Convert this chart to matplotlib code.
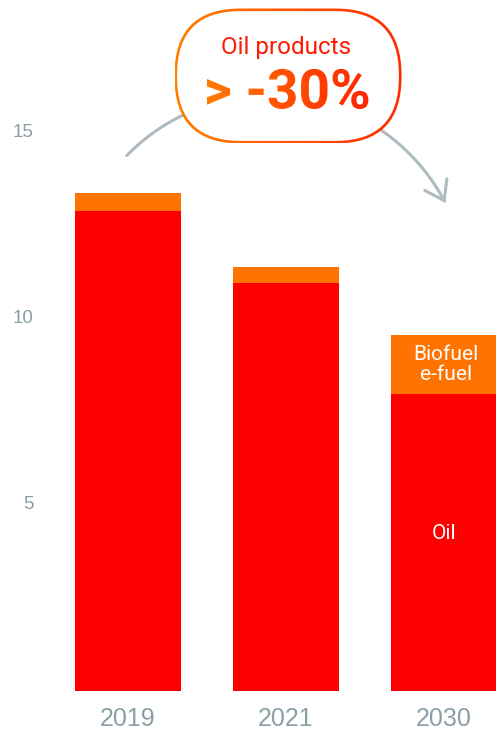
import numpy as np
import matplotlib
matplotlib.use("Agg")
import matplotlib.pyplot as plt
from matplotlib.patches import FancyBboxPatch, PathPatch, FancyArrowPatch
from matplotlib.path import Path
from matplotlib.textpath import TextPath
from matplotlib.font_manager import FontProperties
from matplotlib.transforms import Affine2D, blended_transform_factory
from matplotlib.colors import LinearSegmentedColormap

# ---- data ----
years = ["2019", "2021", "2030"]
oil = [12.9, 10.97, 7.98]
biofuel = [0.49, 0.43, 1.59]
yticks = [5, 10, 15]
callout_title = "Oil products"
callout_value = "> -30%"

RED = "#FF0000"
ORANGE = "#FF7300"
GRAY = "#8C9FA6"

W, H = 496, 733
fig = plt.figure(figsize=(W / 100, H / 100), dpi=100)
ax = fig.add_axes([0, 0, 1, 1])
ax.set_xlim(-0.81, 2.329)
ax.set_ylim(-1.129, 18.575)
ax.axis("off")

x = np.arange(len(years))
ax.bar(x, oil, width=0.67, color=RED, linewidth=0)
ax.bar(x, biofuel, bottom=oil, width=0.67, color=ORANGE, linewidth=0)

tick_font = dict(family=["Liberation Sans", "DejaVu Sans"], color=GRAY)
ytr = blended_transform_factory(ax.transAxes, ax.transData)
for t in yticks:
    ax.text(33.5 / W, t, str(t), transform=ytr, ha="right", va="center", fontsize=13.5, **tick_font)
xtr = blended_transform_factory(ax.transData, ax.transAxes)
for xi, yr in zip(x, years):
    ax.text(xi, (H - 719) / H, yr, transform=xtr, ha="center", va="center", fontsize=18, **tick_font)

# in-bar labels for 2030
rf = dict(family=["Roboto", "DejaVu Sans"], color="white", fontsize=15)
ax.text(x[2] + 0.012, oil[2] + biofuel[2] / 2, "Biofuel\ne-fuel", ha="center", va="center",
        linespacing=1.1, **rf)
ax.text(x[2], oil[2] * 0.532, "Oil", ha="center", va="center", **rf)

# ---- overlay for callout (pixel coords, y up) ----
ov = fig.add_axes([0, 0, 1, 1])
ov.patch.set_alpha(0)
ov.axis("off")

# arc arrow
cx, cy, r = 269, 439, 198.5
a0, a1 = np.deg2rad(135.8), np.deg2rad(27.3)
th = np.linspace(a0, a1, 200)
pts = np.column_stack([cx + r * np.cos(th), cy + r * np.sin(th)])
arr = FancyArrowPatch(path=Path(pts), arrowstyle="->,head_length=13,head_width=9",
                      mutation_scale=1, lw=2.2, color="#ADBCC0", zorder=1)
ov.add_patch(arr)

cmap = LinearSegmentedColormap.from_list("g", ["#FF8000", "#FF2A00"])
grad = np.linspace(0, 1, 256).reshape(1, -1)

# gradient box outline
bx0, by0, bw, bh = 174.5, 589.5, 227, 135
rs = 66
outer = FancyBboxPatch((bx0, by0), bw, bh, boxstyle=f"round,pad=0,rounding_size={rs}",
                       facecolor="none", edgecolor="none")
ov.add_patch(outer)
im = ov.imshow(grad, cmap=cmap, extent=[bx0, bx0 + bw, by0, by0 + bh], aspect="auto",
               zorder=2, interpolation="bilinear")
im.set_clip_path(outer)
lw = 2.6
inner = FancyBboxPatch((bx0 + lw, by0 + lw), bw - 2 * lw, bh - 2 * lw,
                       boxstyle=f"round,pad=0,rounding_size={rs - lw}",
                       facecolor="white", edgecolor="none", zorder=3)
ov.add_patch(inner)

ov.text(286.5, H - 47.5, callout_title, ha="center", va="center", color="#FF1A00",
        fontsize=17.5, family=["Roboto", "DejaVu Sans"], zorder=5)

# gradient big text
tp = TextPath((0, 0), callout_value, size=55,
              prop=FontProperties(family=["Roboto", "DejaVu Sans"], weight="bold"))
ext = tp.get_extents()
tx = 287.5 - (ext.x0 + ext.x1) / 2
ty = H - 108.5
tp2 = Affine2D().translate(tx, ty).transform_path(tp)
tpatch = PathPatch(tp2, facecolor="none", edgecolor="none")
ov.add_patch(tpatch)
e2 = tp2.get_extents()
im2 = ov.imshow(grad, cmap=LinearSegmentedColormap.from_list("g2", ["#FF7A00", "#FF2500"]),
                extent=[e2.x0, e2.x1, e2.y0, e2.y1], aspect="auto", zorder=6,
                interpolation="bilinear")
im2.set_clip_path(tpatch)

ov.set_xlim(0, W)
ov.set_ylim(0, H)

fig.savefig("out.png", dpi=100)
